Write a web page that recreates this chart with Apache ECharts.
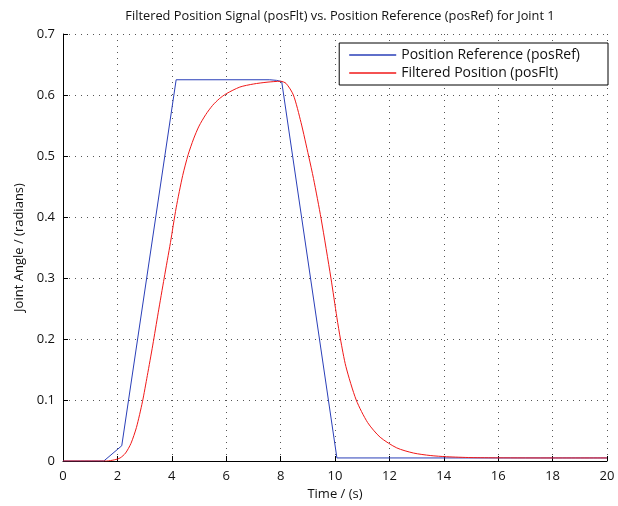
<!DOCTYPE html>
<html>
<head>
<meta charset="utf-8">
<script src="https://cdn.jsdelivr.net/npm/echarts@6/dist/echarts.min.js"></script>
<style>
  html, body { margin: 0; padding: 0; background: #fff; }
  #chart { width: 618px; height: 506px; }
</style>
</head>
<body>
<div id="chart"></div>
<script>
// position reference (posRef)
var refTime = [0, 1.5, 2.16, 4.16, 7.6, 7.85, 8.04, 10.07, 20];
var refPos = [0, 0, 0.025, 0.625, 0.625, 0.624, 0.622, 0.005, 0.005];

// filtered position (posFlt)
var fltTime = [0, 1.6, 1.9, 2.1, 2.3, 2.5, 2.7, 2.92, 3.1, 3.3, 3.5, 3.72, 3.95, 4.16, 4.4, 4.6, 4.8, 5.0, 5.25, 5.5, 5.75, 6.0, 6.5, 7.0, 7.5, 8.0,
  8.2, 8.47, 8.75, 9.03, 9.21, 9.49, 9.85, 10.07, 10.2, 10.4, 10.78, 11.2, 11.66, 12.27, 12.89, 13.5, 14.1, 15, 16, 18, 20];
var fltPos = [0, 0, 0.002, 0.005, 0.013, 0.029, 0.055, 0.097, 0.14, 0.19, 0.243, 0.3, 0.358, 0.415, 0.468, 0.502, 0.528, 0.549, 0.568, 0.583, 0.594, 0.602, 0.613, 0.618, 0.621, 0.6225,
  0.619, 0.6, 0.555, 0.5, 0.463, 0.397, 0.3, 0.235, 0.2, 0.155, 0.1, 0.063, 0.039, 0.0215, 0.013, 0.009, 0.007, 0.0056, 0.0052, 0.005, 0.005];

var xTicks = { min: 0, max: 20, step: 2 };
var yTicks = { min: 0, max: 0.7, step: 0.1 };

function pairs(ts, vs) {
  var out = [];
  for (var i = 0; i < ts.length; i++) {
    out.push([ts[i], vs[i]]);
  }
  return out;
}

var font = "'Open Sans', 'Noto Sans', sans-serif";
var gridLine = { show: true, lineStyle: { color: "#555", type: [1, 5], width: 1 } };

var chart = echarts.init(document.getElementById("chart"));
var option = {
  animation: false,
  backgroundColor: "#fff",
  textStyle: { fontFamily: font },
  title: {
    text: "Filtered Position Signal (posFlt) vs. Position Reference (posRef) for Joint 1",
    left: 335,
    textAlign: "center",
    top: 5,
    textStyle: { fontSize: 12.8, fontWeight: "normal", color: "#111", fontFamily: font },
  },
  legend: {
    orient: "vertical",
    right: 10,
    top: 43,
    padding: [5, 28, 5, 10],
    itemGap: 4,
    itemWidth: 47,
    itemHeight: 1.5,
    icon: "rect",
    backgroundColor: "#fff",
    borderColor: "#000",
    borderWidth: 1,
    textStyle: { fontSize: 14, color: "#111", fontFamily: font },
    data: ["Position Reference (posRef)", "Filtered Position (posFlt)"],
  },
  grid: {
    left: 63,
    right: 11,
    top: 34,
    bottom: 42,
  },
  xAxis: {
    type: "value",
    min: xTicks.min,
    max: xTicks.max,
    interval: xTicks.step,
    name: "Time / (s)",
    nameLocation: "middle",
    nameGap: 27,
    nameTextStyle: { fontSize: 13, color: "#111" },
    axisLine: { show: true, onZero: false, lineStyle: { color: "#000", width: 1 } },
    axisTick: { show: true, inside: true, length: 5, lineStyle: { color: "#000" } },
    axisLabel: { fontSize: 13, color: "#111", margin: 9 },
    splitLine: gridLine,
  },
  yAxis: {
    type: "value",
    min: yTicks.min,
    max: yTicks.max,
    interval: yTicks.step,
    name: "Joint Angle / (radians)",
    nameLocation: "middle",
    nameGap: 28,
    nameTextStyle: { fontSize: 13, color: "#111" },
    axisLine: { show: true, onZero: false, lineStyle: { color: "#000", width: 1 } },
    axisTick: { show: true, inside: true, length: 5, lineStyle: { color: "#000" } },
    axisLabel: { fontSize: 13, color: "#111", margin: 8 },
    splitLine: gridLine,
  },
  series: [
    {
      name: "Position Reference (posRef)",
      type: "line",
      data: pairs(refTime, refPos),
      symbol: "none",
      lineStyle: { color: "#2a3fb8", width: 1 },
      itemStyle: { color: "#2a3fb8" },
      z: 3,
    },
    {
      name: "Filtered Position (posFlt)",
      type: "line",
      data: pairs(fltTime, fltPos),
      symbol: "none",
      smooth: 0.25,
      lineStyle: { color: "#f01818", width: 1 },
      itemStyle: { color: "#f01818" },
      z: 4,
    },
  ],
};
chart.setOption(option);
</script>
</body>
</html>
